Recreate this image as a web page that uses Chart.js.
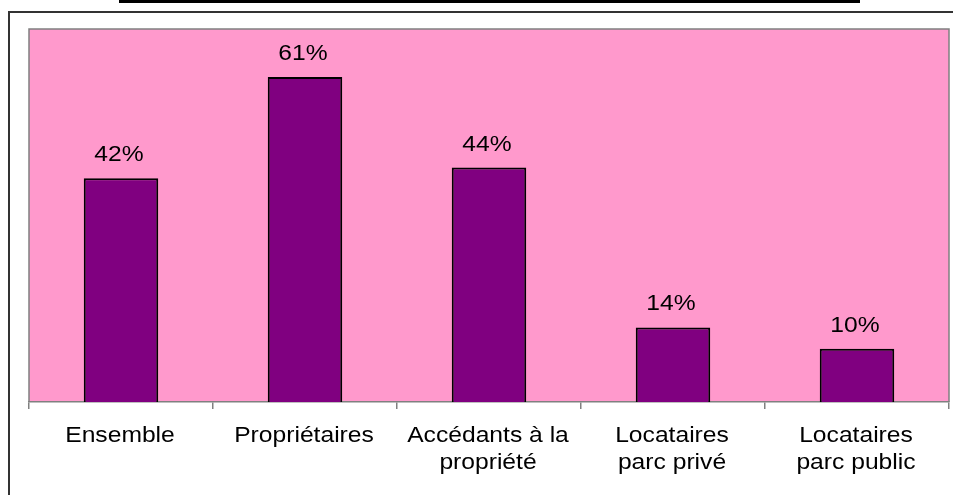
<!DOCTYPE html>
<html>
<head>
<meta charset="utf-8">
<script src="https://cdn.jsdelivr.net/npm/chart.js@4/dist/chart.umd.min.js"></script>
<style>
  html, body { margin: 0; padding: 0; background: #fff; }
  #wrap { position: relative; width: 953px; height: 495px; }
</style>
</head>
<body>
<div id="wrap"><canvas id="bars"></canvas></div>
<script>
const categories = [
  'Ensemble',
  'Propriétaires',
  ['Accédants à la', 'propriété'],
  ['Locataires', 'parc privé'],
  ['Locataires', 'parc public']
];
const shares = [42, 61, 44, 14, 10];

const textFont = '22px "Liberation Sans", Arial, sans-serif';
const stretch = 1.12;

// text drawn slightly wider than the font's natural width
function wideText(ctx, text, x, y) {
  ctx.save();
  ctx.translate(x, y);
  ctx.scale(stretch, 1);
  ctx.fillText(text, 0, 0);
  ctx.restore();
}

// page frame, pink plot background and its grey border
const framePlugin = {
  id: 'frame',
  beforeDraw(chart) {
    const { ctx, chartArea: a } = chart;
    ctx.save();
    ctx.fillStyle = '#fff';
    ctx.fillRect(0, 0, chart.width, chart.height);
    ctx.fillStyle = '#000';
    ctx.fillRect(119, 0, 741, 3);
    ctx.strokeStyle = '#333';
    ctx.lineWidth = 2;
    ctx.beginPath();
    ctx.moveTo(9, chart.height);
    ctx.lineTo(9, 12);
    ctx.lineTo(chart.width, 12);
    ctx.stroke();
    ctx.fillStyle = '#FF99CC';
    ctx.fillRect(a.left, a.top, a.right - a.left, a.bottom - a.top);
    ctx.restore();
  },
  afterDatasetsDraw(chart) {
    const { ctx, chartArea: a } = chart;
    ctx.save();
    ctx.strokeStyle = '#808080';
    ctx.lineWidth = 1.5;
    ctx.beginPath();
    ctx.moveTo(a.left, a.bottom);
    ctx.lineTo(a.left, a.top);
    ctx.lineTo(a.right, a.top);
    ctx.lineTo(a.right, a.bottom);
    ctx.stroke();
    ctx.restore();
  }
};

// percentages above the bars and category names under the axis
const textPlugin = {
  id: 'texts',
  afterDraw(chart) {
    const { ctx } = chart;
    const meta = chart.getDatasetMeta(0);
    const x = chart.scales.x;
    ctx.save();
    ctx.fillStyle = '#000';
    ctx.font = textFont;
    ctx.textAlign = 'center';
    ctx.textBaseline = 'alphabetic';
    meta.data.forEach((bar, i) => {
      wideText(ctx, shares[i] + '%', bar.x - 2, bar.y - 17);
    });
    categories.forEach((label, i) => {
      const lines = Array.isArray(label) ? label : [label];
      const cx = x.getPixelForTick(i);
      lines.forEach((line, j) => {
        wideText(ctx, line, cx - 1, x.top + 40 + j * 27);
      });
    });
    ctx.restore();
  }
};

new Chart(document.getElementById('bars'), {
  type: 'bar',
  data: {
    labels: categories,
    datasets: [{
      data: shares,
      backgroundColor: '#800080',
      borderColor: '#000',
      borderWidth: 2,
      barPercentage: 0.81,
      categoryPercentage: 0.5
    }]
  },
  options: {
    responsive: true,
    maintainAspectRatio: false,
    animation: false,
    layout: { padding: { left: 29, top: 29, right: 4, bottom: 0 } },
    plugins: {
      legend: { display: false },
      tooltip: { enabled: false }
    },
    scales: {
      y: {
        display: false,
        min: 0,
        max: 70
      },
      x: {
        afterFit(scale) { scale.height = 93; },
        border: { color: '#808080', width: 1.5 },
        grid: {
          drawOnChartArea: false,
          drawTicks: true,
          tickLength: 7,
          color: '#808080',
          lineWidth: 1.5
        },
        ticks: {
          display: false,
          autoSkip: false
        }
      }
    }
  },
  plugins: [framePlugin, textPlugin]
});
</script>
</body>
</html>
